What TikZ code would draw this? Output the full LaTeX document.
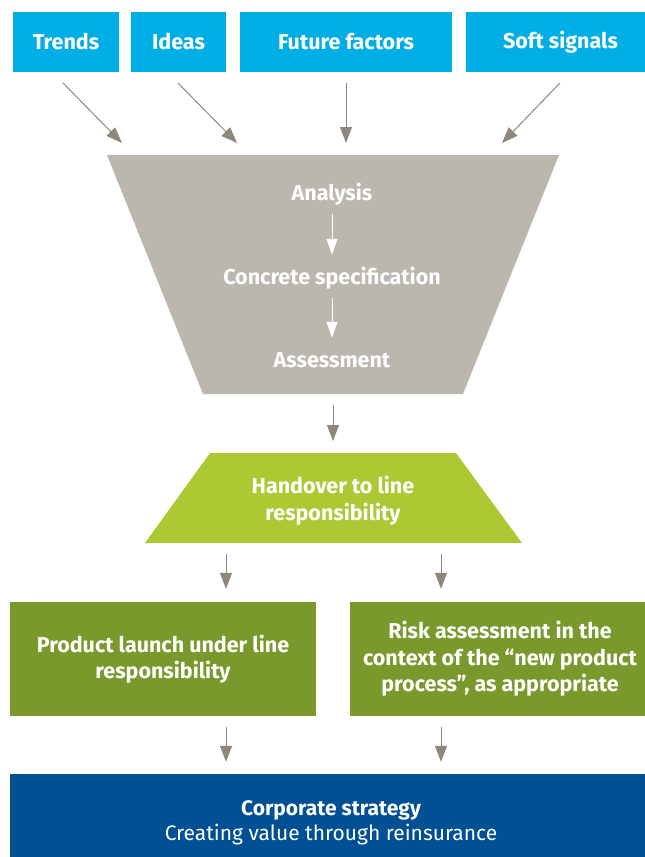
\documentclass[tikz,border=0pt]{standalone}
\usepackage{fontspec}
\setmainfont{Fira Sans}
\usetikzlibrary{arrows.meta}
\definecolor{signalblue}{RGB}{0,174,230}
\definecolor{funnelgrey}{RGB}{187,183,175}
\definecolor{arrowgrey}{RGB}{142,135,125}
\definecolor{handovergreen}{RGB}{171,201,50}
\definecolor{linegreen}{RGB}{122,153,44}
\definecolor{strategyblue}{RGB}{0,80,147}
\tikzset{
  inputbox/.style={rectangle, fill=signalblue, text=white, font=\bfseries\fontsize{21.5}{24}\selectfont, minimum height=60pt, inner sep=0pt},
  stagetext/.style={text=white, font=\bfseries\fontsize{21.5}{27}\selectfont, align=center, text height=15pt, text depth=5pt, inner sep=2pt},
  linebox/.style={rectangle, fill=linegreen, text=white, font=\bfseries\fontsize{21.5}{26.5}\selectfont, align=center, minimum height=114pt, inner sep=0pt},
  strategybox/.style={rectangle, fill=strategyblue, text=white, font=\fontsize{21}{25}\selectfont, align=center, minimum height=98pt, inner sep=0pt},
  feed/.style={arrowgrey, line width=1pt, -{Triangle[length=16pt,width=12pt]}},
  substep/.style={white, line width=1pt, -{Triangle[length=16pt,width=11pt]}}
}

\begin{document}
\begin{tikzpicture}[x=1pt, y=-1pt]
  \useasboundingbox (0,0) rectangle (645,857);
  \clip (0,0) rectangle (645,857);

  \node[inputbox, minimum width=106pt] (trends) at (66,42) {Trends};
  \node[inputbox, minimum width=95pt] (ideas) at (178.5,42) {Ideas};
  \node[inputbox, minimum width=212pt] (future) at (346,42) {Future factors};
  \node[inputbox, minimum width=189pt] (soft) at (560.5,42) {Soft signals};

  \coordinate (trends-out) at (63,83);
  \coordinate (trends-in) at (122,143);
  \coordinate (ideas-out) at (178,83);
  \coordinate (ideas-in) at (237,143);
  \coordinate (future-out) at (346,83);
  \coordinate (future-in) at (346,143);
  \coordinate (soft-out) at (560,83);
  \coordinate (soft-in) at (502,143);
  \draw[feed] (trends-out) -- (trends-in);
  \draw[feed] (ideas-out) -- (ideas-in);
  \draw[feed] (future-out) -- (future-in);
  \draw[feed] (soft-out) -- (soft-in);

  \fill[funnelgrey] (107,155) -- (559,155) -- (463,394) -- (203,394) -- cycle;
  \node[stagetext] (analysis) at (332,195) {Analysis};
  \node[stagetext] (concrete) at (332,279) {Concrete specification};
  \node[stagetext] (assessment) at (332,362) {Assessment};
  \draw[substep, shorten <=7pt, shorten >=12pt] (analysis.south) -- (concrete.north);
  \draw[substep, shorten <=7pt, shorten >=12pt] (concrete.south) -- (assessment.north);

  \coordinate (funnel-out) at (333,405);
  \coordinate (handover-in) at (333,441);
  \draw[feed] (funnel-out) -- (handover-in);

  \fill[handovergreen] (210,453) -- (456,453) -- (522,543) -- (145,543) -- cycle;
  \node[stagetext, text height=, text depth=] (handover) at (333,501) {Handover to line\\responsibility};

  \node[linebox, minimum width=306pt] (launch) at (163,659) {Product launch under line\\responsibility};
  \node[linebox, minimum width=300pt] (risk) at (500,659) {Risk assessment in the\\context of the “new product\\process”, as appropriate};

  \coordinate (split-left) at (226,554);
  \coordinate (split-right) at (441,554);
  \draw[feed, shorten >=13pt] (split-left) -- (split-left |- launch.north);
  \draw[feed, shorten >=13pt] (split-right) -- (split-right |- risk.north);

  \node[strategybox, minimum width=642pt] (strategy) at (331,823) {{\bfseries Corporate strategy}\\Creating value through reinsurance};

  \draw[feed, shorten <=11pt, shorten >=12pt] (launch.south -| split-left) -- (split-left |- strategy.north);
  \draw[feed, shorten <=11pt, shorten >=12pt] (risk.south -| split-right) -- (split-right |- strategy.north);
\end{tikzpicture}
\end{document}
